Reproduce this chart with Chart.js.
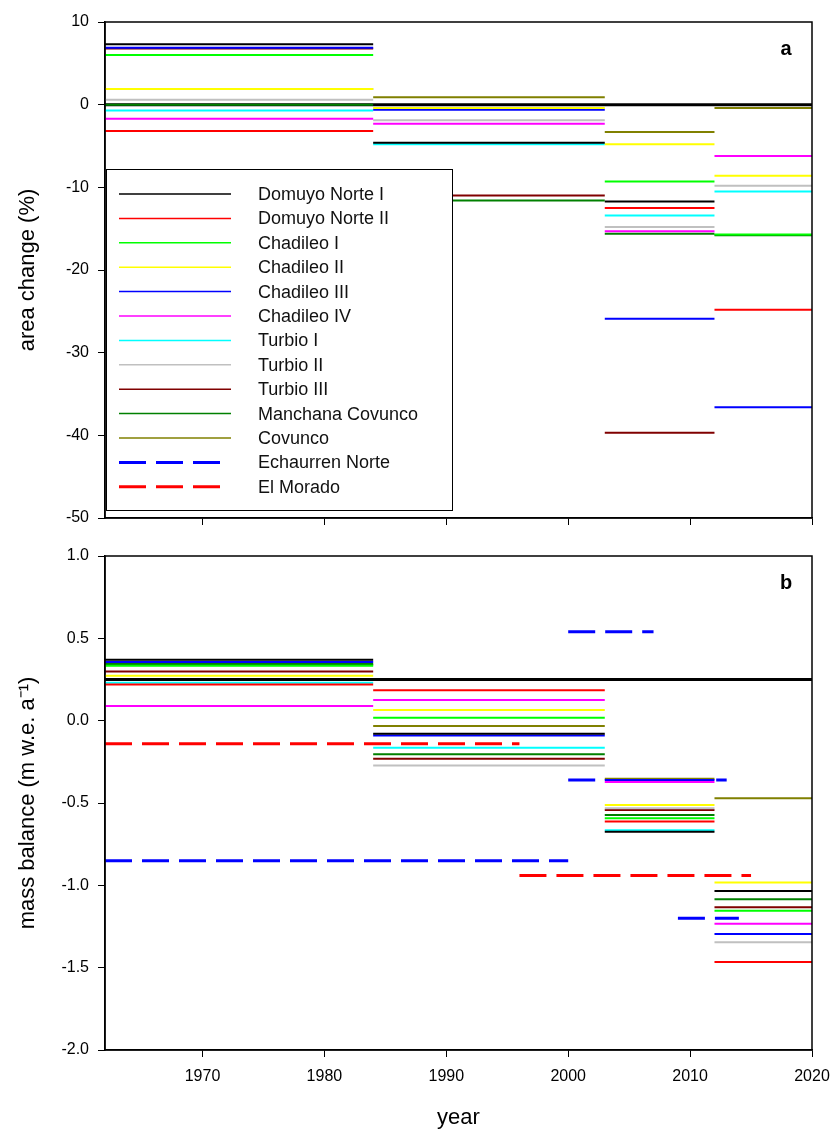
<!DOCTYPE html>
<html>
<head>
<meta charset="utf-8">
<script src="https://cdn.jsdelivr.net/npm/chart.js@4.4.1/dist/chart.umd.min.js"></script>
<style>
body { margin: 0; background: #fff; }
#wrap { position: relative; width: 837px; height: 1131px; }
canvas { position: absolute; left: 0; }
</style>
</head>
<body>
<div id="wrap">
  <canvas id="chartA" width="837" height="540" style="top:0px"></canvas>
  <canvas id="chartB" width="837" height="591" style="top:540px"></canvas>
</div>
<script>
// glaciers, colours, periods
const glaciers = ["Domuyo Norte I", "Domuyo Norte II", "Chadileo I", "Chadileo II", "Chadileo III",
  "Chadileo IV", "Turbio I", "Turbio II", "Turbio III", "Manchana Covunco", "Covunco"];
const colors = ["#000000", "#ff0000", "#00ff00", "#ffff00", "#0000ff",
  "#ff00ff", "#00ffff", "#c0c0c0", "#800000", "#008000", "#808000"];
const periods = [[1962, 1984], [1984, 2003], [2003, 2012], [2012, 2020]];
const xTicks = [1970, 1980, 1990, 2000, 2010, 2020];
const yTicksA = [-50, -40, -30, -20, -10, 0, 10];
const yTicksB = [-2.0, -1.5, -1.0, -0.5, 0.0, 0.5, 1.0];

// area change (%) per glacier, one value per period (null = no line)
const areaChange = [
  [7.3, -4.6, -11.7, null],     // Domuyo Norte I
  [-3.2, null, -12.5, -24.8],   // Domuyo Norte II
  [6.0, null, -9.3, -15.7],     // Chadileo I
  [1.9, -0.4, -4.8, -8.6],      // Chadileo II
  [6.9, -0.6, -25.9, -36.6],    // Chadileo III
  [-1.7, -2.3, -15.3, -6.2],    // Chadileo IV
  [-0.7, -4.8, -13.4, -10.5],   // Turbio I
  [0.6, -1.9, -14.8, -9.8],     // Turbio II
  [6.8, -11.0, -39.7, null],    // Turbio III
  [0.0, -11.6, -15.6, -15.8],   // Manchana Covunco
  [1.9, 0.9, -3.3, -0.4]        // Covunco
];
const areaZero = 0;

// mass balance (m w.e. a-1) per glacier, one value per period
const massBalance = [
  [0.37, -0.08, -0.675, -1.035],   // Domuyo Norte I
  [0.22, 0.185, -0.613, -1.465],   // Domuyo Norte II
  [0.334, 0.018, -0.593, -1.155],  // Chadileo I
  [0.273, 0.065, -0.512, -0.983],  // Chadileo II
  [0.356, -0.09, -0.36, -1.295],   // Chadileo III
  [0.089, 0.126, -0.372, -1.234],  // Chadileo IV
  [0.231, -0.164, -0.666, null],   // Turbio I
  [0.36, -0.273, -0.532, -1.346],  // Turbio II
  [0.298, -0.232, -0.542, -1.133], // Turbio III
  [0.344, -0.204, -0.573, -1.085], // Manchana Covunco
  [0.34, -0.032, -0.352, -0.471]   // Covunco
];
const massRef = 0.25;

// dashed series: start year, end year, value
const echaurrenStart = [1962, 2000, 2000, 2009];
const echaurrenEnd = [2000, 2007, 2013, 2014];
const echaurrenMB = [-0.85, 0.54, -0.36, -1.2];
const moradoStart = [1962, 1996];
const moradoEnd = [1996, 2015];
const moradoMB = [-0.14, -0.94];

const ff = '"Liberation Sans", Arial, sans-serif';

function periodData(vals) {
  let pts = [];
  vals.forEach(function (v, i) {
    if (v === null) return;
    pts.push({ x: periods[i][0], y: v }, { x: periods[i][1], y: v }, { x: periods[i][1], y: null });
  });
  return pts;
}
function segData(starts, ends, vals) {
  let pts = [];
  for (let i = 0; i < vals.length; i++) {
    pts.push({ x: starts[i], y: vals[i] }, { x: ends[i], y: vals[i] }, { x: ends[i], y: null });
  }
  return pts;
}
function glacierSets(table) {
  return table.map(function (vals, i) {
    return { label: glaciers[i], data: periodData(vals), borderColor: colors[i], borderWidth: 2 };
  });
}
function refLine(v) {
  return { label: "ref", data: [{ x: 1962, y: v }, { x: 2020, y: v }], borderColor: "#000", borderWidth: 3 };
}

function xScale(showLabels, showTitle, h) {
  return {
    type: "linear", min: 1962, max: 2020,
    afterBuildTicks: function (s) { s.ticks = xTicks.map(function (v) { return { value: v }; }); },
    afterFit: function (s) { s.height = h; s.paddingLeft = 0; s.paddingRight = 0; },
    grid: { drawOnChartArea: false, drawTicks: true, tickLength: 7, color: "#000", lineWidth: 1 },
    border: { display: true, color: "#000", width: 1.5 },
    ticks: { display: showLabels, autoSkip: false, maxRotation: 0, padding: 10, color: "#000",
      font: { family: ff, size: 16 }, callback: function (v) { return String(v); } },
    title: { display: showTitle, text: "year", color: "#000", font: { family: ff, size: 22 }, padding: { top: 0, bottom: 0 } }
  };
}
function yScale(min, max, tickVals, fmt, titleText) {
  return {
    type: "linear", min: min, max: max,
    afterBuildTicks: function (s) { s.ticks = tickVals.map(function (v) { return { value: v }; }); },
    afterFit: function (s) { s.width = 105; s.paddingTop = 0; s.paddingBottom = 0; },
    grid: { drawOnChartArea: false, drawTicks: true, tickLength: 7, color: "#000", lineWidth: 1 },
    border: { display: true, color: "#000", width: 1.5 },
    ticks: { autoSkip: false, padding: 9, color: "#000", font: { family: ff, size: 16 }, callback: fmt },
    title: { display: true, text: titleText, color: "#000", font: { family: ff, size: 22 }, padding: { top: 15, bottom: 0 } }
  };
}

const framePlugin = {
  id: "frame",
  afterDatasetsDraw: function (chart, args, opts) {
    const ctx = chart.ctx, a = chart.chartArea;
    ctx.save();
    ctx.strokeStyle = "#000";
    ctx.lineWidth = 1.5;
    ctx.strokeRect(a.left, a.top, a.right - a.left, a.bottom - a.top);
    ctx.font = "bold 20px " + ff;
    ctx.fillStyle = "#000";
    ctx.textAlign = "center";
    ctx.textBaseline = "middle";
    ctx.fillText(opts.letter, a.right - 26, a.top + 27);
    ctx.restore();
  }
};

// legend box drawn inside panel a
const legendNames = glaciers.concat(["Echaurren Norte", "El Morado"]);
const legendColors = colors.concat(["#0000ff", "#ff0000"]);
const boxLegend = {
  id: "boxLegend",
  afterDraw: function (chart, args, opts) {
    if (!opts.show) return;
    const ctx = chart.ctx;
    ctx.save();
    ctx.fillStyle = "#fff";
    ctx.fillRect(106, 169, 346, 341);
    ctx.strokeStyle = "#000";
    ctx.lineWidth = 1;
    ctx.strokeRect(106.5, 169.5, 346, 341);
    ctx.font = "18px " + ff;
    ctx.textAlign = "left";
    ctx.textBaseline = "middle";
    for (let i = 0; i < legendNames.length; i++) {
      const y = 194 + i * 24.4;
      const dashed = i >= glaciers.length;
      ctx.strokeStyle = legendColors[i];
      ctx.lineWidth = dashed ? 3 : 1.5;
      ctx.setLineDash(dashed ? [27, 10] : []);
      ctx.beginPath();
      ctx.moveTo(119, y);
      ctx.lineTo(dashed ? 220 : 231, y);
      ctx.stroke();
      ctx.fillStyle = "#111";
      ctx.fillText(legendNames[i], 258, y + 1);
    }
    ctx.restore();
  }
};

const baseOpts = {
  responsive: false,
  animation: false,
  devicePixelRatio: 1,
  elements: { point: { radius: 0 }, line: { tension: 0 } }
};

// panel a
const dsA = glacierSets(areaChange);
dsA.push(refLine(areaZero));
new Chart(document.getElementById("chartA").getContext("2d"), {
  type: "line",
  data: { datasets: dsA },
  options: Object.assign({}, baseOpts, {
    layout: { padding: { top: 22, right: 25, left: 0, bottom: 0 } },
    scales: {
      x: xScale(false, false, 22),
      y: yScale(-50, 10, yTicksA, function (v) { return String(v); }, "area change (%)")
    },
    plugins: { legend: { display: false }, tooltip: { enabled: false }, frame: { letter: "a" }, boxLegend: { show: true } }
  }),
  plugins: [framePlugin, boxLegend]
});

// panel b
const dsB = glacierSets(massBalance);
dsB.push({ label: "Echaurren Norte", data: segData(echaurrenStart, echaurrenEnd, echaurrenMB), borderColor: "#0000ff", borderWidth: 3, borderDash: [27, 10] });
dsB.push({ label: "El Morado", data: segData(moradoStart, moradoEnd, moradoMB), borderColor: "#ff0000", borderWidth: 3, borderDash: [27, 10] });
dsB.push(refLine(massRef));
new Chart(document.getElementById("chartB").getContext("2d"), {
  type: "line",
  data: { datasets: dsB },
  options: Object.assign({}, baseOpts, {
    layout: { padding: { top: 16, right: 25, left: 0, bottom: 0 } },
    scales: {
      x: xScale(true, true, 81),
      y: yScale(-2, 1, yTicksB, function (v) { return v.toFixed(1); }, "mass balance (m w.e. a\u207B\u00B9)")
    },
    plugins: { legend: { display: false }, tooltip: { enabled: false }, frame: { letter: "b" }, boxLegend: { show: false } }
  }),
  plugins: [framePlugin, boxLegend]
});
</script>
</body>
</html>
